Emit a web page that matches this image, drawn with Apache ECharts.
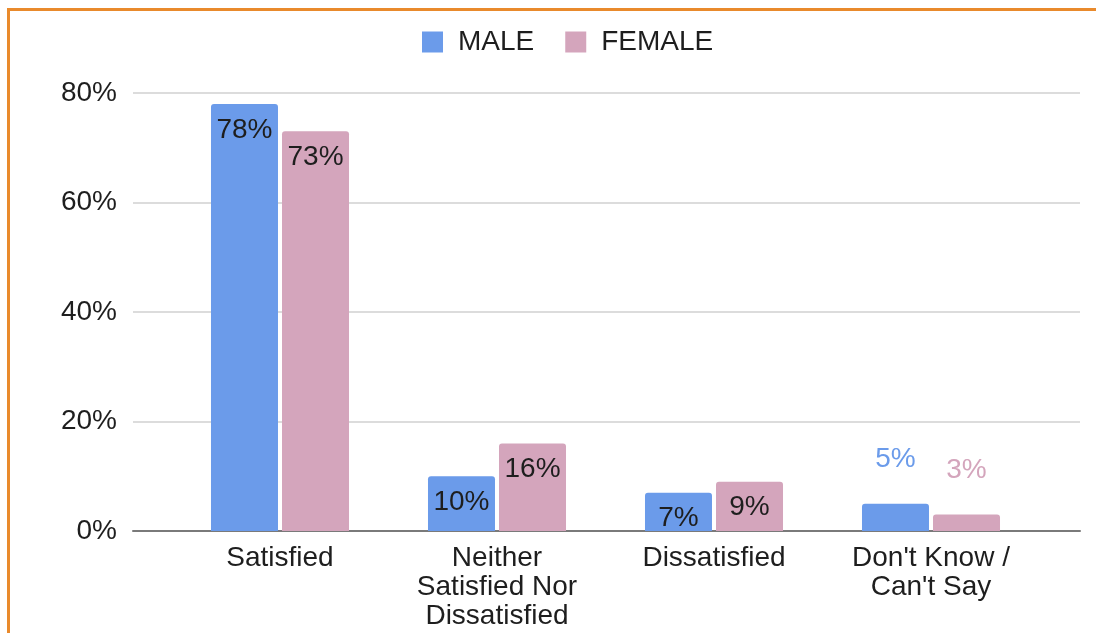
<!DOCTYPE html>
<html>
<head>
<meta charset="utf-8">
<script src="https://cdn.jsdelivr.net/npm/echarts@6/dist/echarts.min.js"></script>
<style>
html,body{margin:0;padding:0;background:#fff;}
#chart{position:absolute;left:0;top:0;width:1096px;height:633px;}
#frame{position:absolute;left:7px;top:8px;width:1200px;height:700px;border-top:3px solid #e98a2c;border-left:3px solid #e98a2c;pointer-events:none;}
</style>
</head>
<body>
<div id="chart"></div>
<div id="frame"></div>
<script>
var categories = ['Satisfied', 'Neither\nSatisfied Nor\nDissatisfied', 'Dissatisfied', "Don't Know /\nCan't Say"];
var seriesNames = ['MALE', 'FEMALE'];
var maleValues = [78, 10, 7, 5];
var femaleValues = [73, 16, 9, 3];
var yTicks = [0, 20, 40, 60, 80];

var colors = ['#6b9bea', '#d4a5bc'];
var FONT = 'Liberation Sans, Arial, sans-serif';
var FS = 28;

function buildData(values, color) {
  return values.map(function (v) {
    if (v < 6) {
      return { value: v, label: { position: 'top', distance: 30, color: color } };
    }
    return v;
  });
}

var chart = echarts.init(document.getElementById('chart'));
chart.setOption({
  animation: false,
  color: colors,
  textStyle: { fontFamily: FONT },
  legend: {
    data: seriesNames,
    left: 422,
    top: 28,
    padding: 0,
    itemWidth: 21,
    itemHeight: 21,
    itemGap: 31,
    icon: 'rect',
    textStyle: { fontSize: FS, color: '#1e1e1e', fontFamily: FONT, padding: [0, 0, 0, 10] }
  },
  grid: [
    { left: 133, right: 16, top: 93, bottom: 102 },
    { left: 171.5, right: 56.5, top: 93, bottom: 102 }
  ],
  xAxis: [
    {
      type: 'category', gridIndex: 0, data: categories,
      axisLine: { show: true, lineStyle: { color: '#7a7a7a', width: 2 } },
      axisTick: { show: false }, axisLabel: { show: false }, splitLine: { show: false }
    },
    {
      type: 'category', gridIndex: 1, data: categories,
      axisLine: { show: false }, axisTick: { show: false },
      axisLabel: { fontSize: FS, color: '#1e1e1e', lineHeight: 29, margin: 13, fontFamily: FONT, interval: 0 }
    }
  ],
  yAxis: [
    {
      type: 'value', gridIndex: 0, min: yTicks[0], max: yTicks[yTicks.length - 1], interval: 20,
      axisLine: { show: false }, axisTick: { show: false },
      axisLabel: { formatter: '{value}%', fontSize: FS, color: '#1e1e1e', margin: 16, fontFamily: FONT },
      splitLine: { lineStyle: { color: '#dcdcdc', width: 2 } }
    },
    {
      type: 'value', gridIndex: 1, min: yTicks[0], max: yTicks[yTicks.length - 1], interval: 20,
      show: false, splitLine: { show: false }
    }
  ],
  series: [
    {
      name: seriesNames[0], type: 'bar', xAxisIndex: 1, yAxisIndex: 1,
      data: buildData(maleValues, colors[0]),
      barWidth: 67, barGap: '6%',
      itemStyle: { borderRadius: [3, 3, 0, 0] },
      label: { show: true, position: 'insideTop', distance: 12, formatter: '{c}%', fontSize: FS, color: '#1e1e1e', fontFamily: FONT }
    },
    {
      name: seriesNames[1], type: 'bar', xAxisIndex: 1, yAxisIndex: 1,
      data: buildData(femaleValues, colors[1]),
      barWidth: 67, barGap: '6%',
      itemStyle: { borderRadius: [3, 3, 0, 0] },
      label: { show: true, position: 'insideTop', distance: 12, formatter: '{c}%', fontSize: FS, color: '#1e1e1e', fontFamily: FONT }
    }
  ]
});
</script>
</body>
</html>
